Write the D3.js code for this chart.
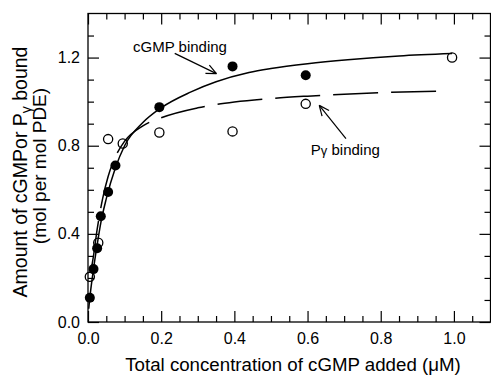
<!DOCTYPE html>
<html>
<head>
<meta charset="utf-8">
<script src="https://cdn.jsdelivr.net/npm/d3@7"></script>
<style>
  body { margin: 0; background: #fff; }
  svg { display: block; font-family: "Liberation Sans", Arial, sans-serif; }
</style>
</head>
<body>
<svg id="chart" width="491" height="375"></svg>
<script>
const cgmpConc = [0.005, 0.015, 0.025, 0.035, 0.055, 0.075, 0.195, 0.395, 0.595];
const cgmpBound = [0.11, 0.24, 0.335, 0.48, 0.59, 0.71, 0.975, 1.16, 1.12];
const pgConc = [0.005, 0.028, 0.055, 0.095, 0.195, 0.395, 0.595, 0.995];
const pgBound = [0.205, 0.36, 0.83, 0.81, 0.86, 0.865, 0.99, 1.20];

// fitted curves
const cgmpFitX = [0.002, 0.005, 0.015, 0.025, 0.035, 0.05, 0.075, 0.1, 0.15, 0.2, 0.28, 0.35, 0.44, 0.5, 0.6, 0.71, 0.85, 0.995];
const cgmpFitY = [0.06, 0.11, 0.24, 0.35, 0.45, 0.56, 0.70, 0.80, 0.905, 0.972, 1.043, 1.09, 1.132, 1.15, 1.172, 1.19, 1.207, 1.218];
const pgFitX = [0.005, 0.015, 0.025, 0.04, 0.055, 0.075, 0.1, 0.15, 0.2, 0.3, 0.4, 0.5, 0.6, 0.7, 0.8, 0.96];
const pgFitY = [0.2, 0.3, 0.42, 0.56, 0.66, 0.75, 0.82, 0.89, 0.927, 0.972, 0.998, 1.014, 1.025, 1.034, 1.041, 1.048];

// ticks
const xMajorTicks = [0, 0.2, 0.4, 0.6, 0.8, 1.0];
const xMinorTicks = [0.05, 0.1, 0.15, 0.25, 0.3, 0.35, 0.45, 0.5, 0.55, 0.65, 0.7, 0.75, 0.85, 0.9, 0.95, 1.05];
const yMajorTicks = [0, 0.4, 0.8, 1.2];
const yMinorTicks = [0.1, 0.2, 0.3, 0.5, 0.6, 0.7, 0.9, 1.0, 1.1, 1.3];

const svg = d3.select("#chart");
const m = { left: 88, right: 490.5, top: 13.5, bottom: 322 };

const x = d3.scaleLinear().domain([0, 1.1]).range([m.left, m.right]);
const y = d3.scaleLinear().domain([0, 1.4]).range([m.bottom, m.top]);

// frame
svg.append("rect")
  .attr("x", m.left).attr("y", m.top)
  .attr("width", m.right - m.left).attr("height", m.bottom - m.top)
  .attr("fill", "none").attr("stroke", "#000").attr("stroke-width", 1.3);

const fmt = d3.format(".1f");

function styleAxis(g) {
  g.select(".domain").remove();
  g.selectAll(".tick line").attr("stroke", "#000").attr("stroke-width", 1.2);
  g.selectAll(".tick text").attr("fill", "#000").attr("font-size", 16)
    .attr("font-family", "'Liberation Sans', Arial, sans-serif");
}

// bottom axis, ticks pointing in
svg.append("g").attr("transform", `translate(0,${m.bottom})`)
  .call(d3.axisBottom(x).tickValues(xMajorTicks).tickFormat(fmt).tickSize(-11).tickPadding(11))
  .call(styleAxis);
svg.append("g").attr("transform", `translate(0,${m.bottom})`)
  .call(d3.axisBottom(x).tickValues(xMinorTicks).tickFormat("").tickSize(-6))
  .call(styleAxis);
// top axis
svg.append("g").attr("transform", `translate(0,${m.top})`)
  .call(d3.axisTop(x).tickValues(xMajorTicks).tickFormat("").tickSize(-11))
  .call(styleAxis);
svg.append("g").attr("transform", `translate(0,${m.top})`)
  .call(d3.axisTop(x).tickValues(xMinorTicks).tickFormat("").tickSize(-6))
  .call(styleAxis);
// left axis
svg.append("g").attr("transform", `translate(${m.left},0)`)
  .call(d3.axisLeft(y).tickValues(yMajorTicks).tickFormat(fmt).tickSize(-11).tickPadding(8))
  .call(styleAxis);
svg.append("g").attr("transform", `translate(${m.left},0)`)
  .call(d3.axisLeft(y).tickValues(yMinorTicks).tickFormat("").tickSize(-6))
  .call(styleAxis);
// right axis
svg.append("g").attr("transform", `translate(${m.right},0)`)
  .call(d3.axisRight(y).tickValues(yMajorTicks).tickFormat("").tickSize(-11))
  .call(styleAxis);
svg.append("g").attr("transform", `translate(${m.right},0)`)
  .call(d3.axisRight(y).tickValues(yMinorTicks).tickFormat("").tickSize(-6))
  .call(styleAxis);

// axis titles
svg.append("text")
  .attr("x", 293).attr("y", 371)
  .attr("text-anchor", "middle").attr("font-size", 18.7)
  .text("Total concentration of cGMP added (\u03BCM)");

const yTitle = svg.append("g").attr("transform", "translate(27,172) rotate(-90)");
const t1 = yTitle.append("text").attr("text-anchor", "middle").attr("font-size", 19.5);
t1.append("tspan").text("Amount of cGMPor P");
t1.append("tspan").attr("font-size", 14).attr("dy", 4).text("\u03B3");
t1.append("tspan").attr("dy", -4).text(" bound");
svg.append("text")
  .attr("transform", "translate(46,166) rotate(-90)")
  .attr("text-anchor", "middle").attr("font-size", 19)
  .text("(mol per mol PDE)");

// curves
const line = d3.line().x(d => x(d[0])).y(d => y(d[1])).curve(d3.curveMonotoneX);
const cgmpFit = d3.zip(cgmpFitX, cgmpFitY);
const pgFit = d3.zip(pgFitX, pgFitY);

svg.append("path").datum(cgmpFit)
  .attr("d", line).attr("fill", "none").attr("stroke", "#000").attr("stroke-width", 1.5);

// dash pattern lined up so a dash starts at x = 0.2
const dashOn = 45, dashOff = 13;
const probe = svg.append("path").datum(pgFit.filter(d => d[0] <= 0.2)).attr("d", line);
const lenTo02 = probe.node().getTotalLength();
probe.remove();
const period = dashOn + dashOff;
svg.append("path").datum(pgFit)
  .attr("d", line).attr("fill", "none").attr("stroke", "#000").attr("stroke-width", 1.5)
  .attr("stroke-dasharray", `${dashOn},${dashOff}`)
  .attr("stroke-dashoffset", (period - (lenTo02 % period)) % period);

// points
svg.append("g").selectAll("circle")
  .data(d3.zip(cgmpConc, cgmpBound))
  .join("circle")
  .attr("cx", d => x(d[0])).attr("cy", d => y(d[1])).attr("r", 5)
  .attr("fill", "#000");

svg.append("g").selectAll("circle")
  .data(d3.zip(pgConc, pgBound))
  .join("circle")
  .attr("cx", d => x(d[0])).attr("cy", d => y(d[1])).attr("r", 4.6)
  .attr("fill", "none").attr("stroke", "#000").attr("stroke-width", 1.3);

// annotations with open arrowheads
function arrow(x1, y1, x2, y2) {
  const ang = Math.atan2(y2 - y1, x2 - x1);
  const len = 11, spread = 0.42;
  svg.append("line").attr("x1", x1).attr("y1", y1).attr("x2", x2).attr("y2", y2)
    .attr("stroke", "#000").attr("stroke-width", 1.2);
  [-spread, spread].forEach(s => {
    svg.append("line")
      .attr("x1", x2).attr("y1", y2)
      .attr("x2", x2 - len * Math.cos(ang + s)).attr("y2", y2 - len * Math.sin(ang + s))
      .attr("stroke", "#000").attr("stroke-width", 1.2);
  });
}

svg.append("text").attr("x", x(0.123)).attr("y", y(1.225)).attr("font-size", 15).text("cGMP binding");
arrow(x(0.237), y(1.219), x(0.351), y(1.127));

const pl = svg.append("text").attr("x", x(0.609)).attr("y", y(0.76)).attr("font-size", 15);
pl.append("tspan").text("P");
pl.append("tspan").attr("font-size", 13).text("\u03B3");
pl.append("tspan").text(" binding");
arrow(x(0.705), y(0.832), x(0.632), y(0.983));
</script>
</body>
</html>
